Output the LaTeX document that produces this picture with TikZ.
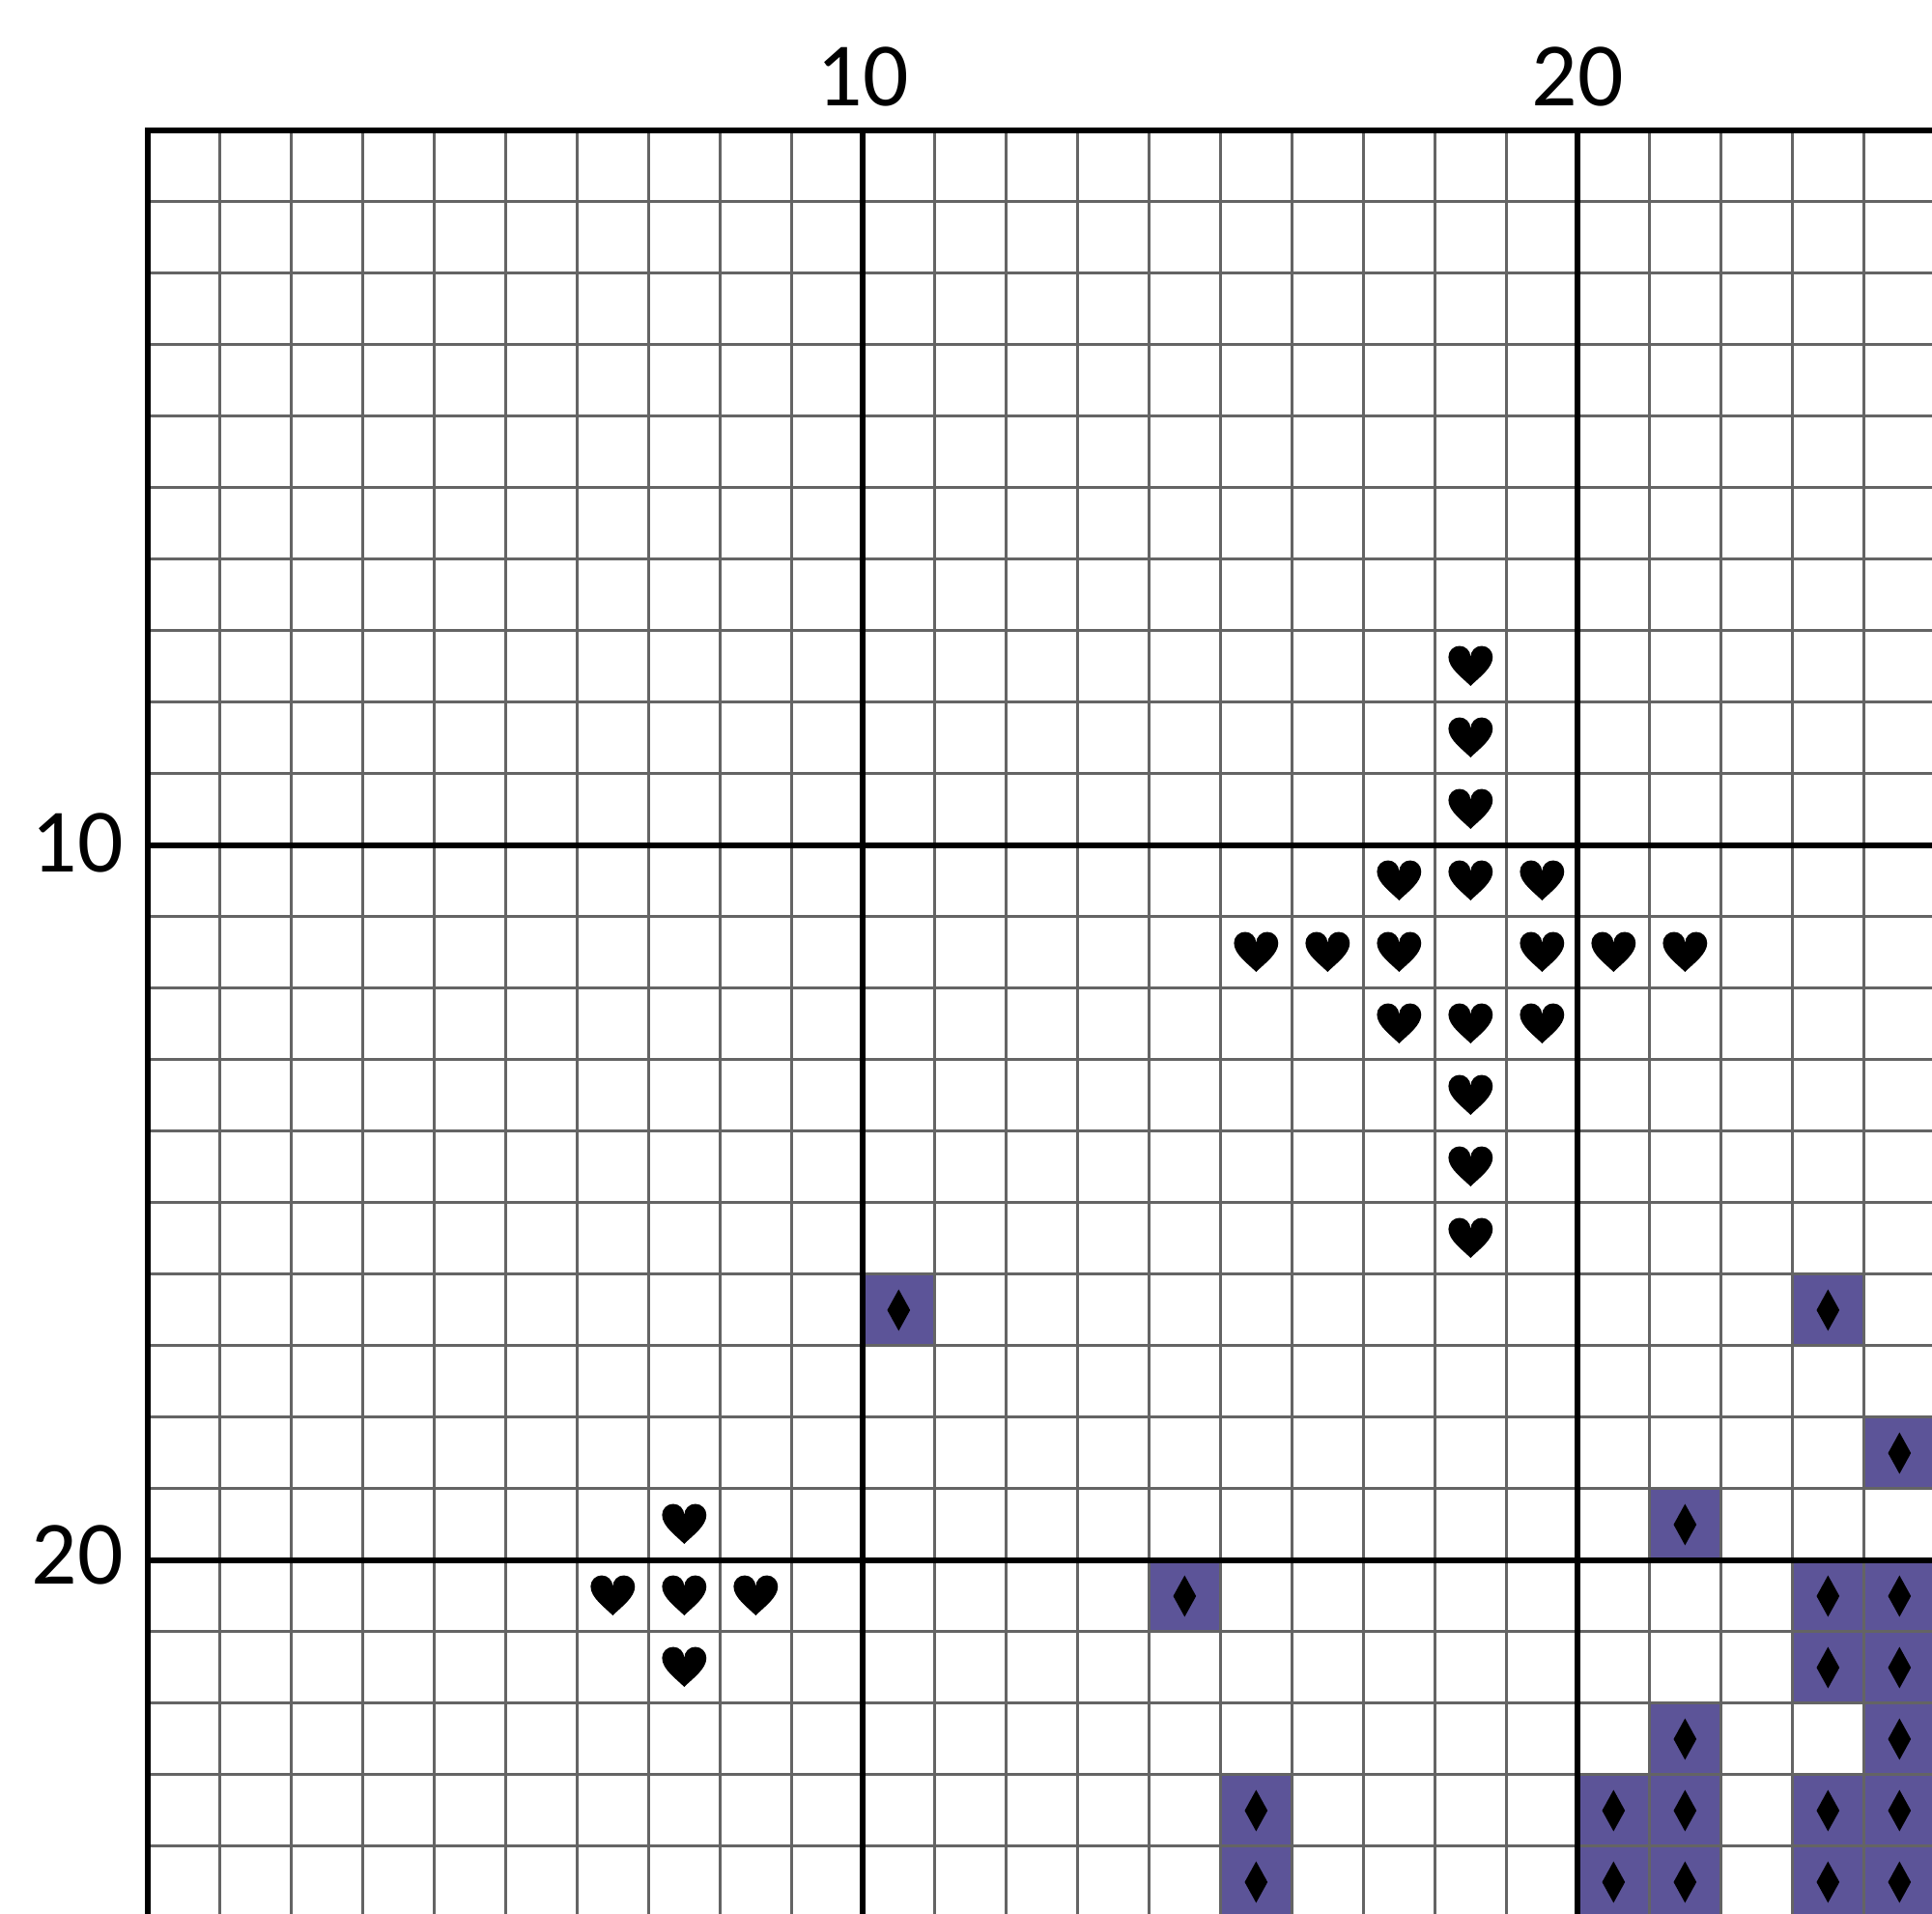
\documentclass[tikz,border=0pt]{standalone}
\usepackage{fontspec}
\setmainfont{Carlito}
\begin{document}
\begin{tikzpicture}[x=1cm,y=1cm]
\definecolor{stitch}{RGB}{92,84,152}
\definecolor{thingray}{RGB}{100,100,100}
\tikzset{
 thinline/.style={draw=thingray, line width=1.15pt},
 thickline/.style={draw=black, line width=2.2pt, line join=miter},
 lbl/.style={font=\fontsize{36}{40}\selectfont, inner sep=0pt, text=black},
 heartpic/.pic={\fill[black] (0,-0.29) .. controls (-0.12,-0.17) and (-0.31,-0.04) .. (-0.31,0.115) arc[start angle=180,end angle=0,radius=0.155] arc[start angle=180,end angle=0,radius=0.155] .. controls (0.31,-0.04) and (0.12,-0.17) .. (0,-0.29) -- cycle;},
 diamondpic/.pic={\fill[black] (0,0.29) -- (0.16,0) -- (0,-0.29) -- (-0.16,0) -- cycle;}
}
\useasboundingbox (-2.072,1.824) rectangle (24.955,-24.946);
\begin{scope}
\clip (-2.072,1.824) rectangle (24.955,-24.946);
% purple stitched cells
\foreach \c/\r in {10/16, 23/16, 24/18, 21/19, 14/20, 23/20, 24/20, 23/21, 24/21, 21/22, 24/22, 15/23, 20/23, 21/23, 23/23, 24/23, 15/24, 20/24, 21/24, 23/24, 24/24}
  \fill[stitch] (\c,-\r) rectangle (\c+1,-\r-1);
% thin grid
\foreach \i in {1,...,9,11,12,...,19,21,22,...,25} {
  \draw[thinline] (\i,0) -- (\i,-25.5);
  \draw[thinline] (0,-\i) -- (25.5,-\i);
}
% thick grid
\draw[thickline] (0,-25.5) -- (0,0) -- (25.5,0);
\foreach \i in {10,20} {
  \draw[thickline] (\i,0) -- (\i,-25.5);
  \draw[thickline] (0,-\i) -- (25.5,-\i);
}
% diamonds
\foreach \c/\r in {10/16, 23/16, 24/18, 21/19, 14/20, 23/20, 24/20, 23/21, 24/21, 21/22, 24/22, 15/23, 20/23, 21/23, 23/23, 24/23, 15/24, 20/24, 21/24, 23/24, 24/24}
  \pic at (\c+0.5,-\r-0.5) {diamondpic};
% hearts
\foreach \c/\r in {18/7, 18/8, 18/9, 17/10, 18/10, 19/10, 15/11, 16/11, 17/11, 19/11, 20/11, 21/11, 17/12, 18/12, 19/12, 18/13, 18/14, 18/15, 7/19, 6/20, 7/20, 8/20, 7/21}
  \pic at (\c+0.5,-\r-0.48) {heartpic};
\end{scope}
% axis labels
\node[lbl, anchor=base] (t10) at (10,0.338) {10};
\node[lbl, anchor=base] (t20) at (20,0.338) {20};
\node[lbl, anchor=east] (l10) at (-0.34,-9.96) {10};
\node[lbl, anchor=east] (l20) at (-0.34,-19.93) {20};
\end{tikzpicture}
\end{document}
